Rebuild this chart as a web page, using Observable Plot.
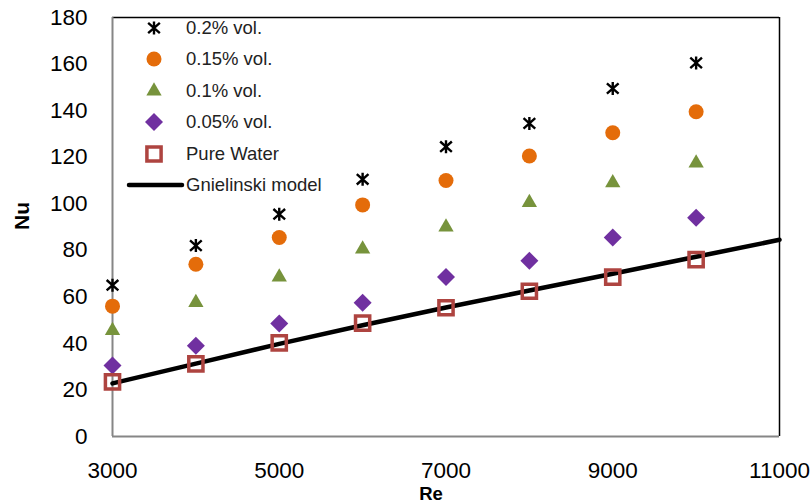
<!DOCTYPE html>
<html><head><meta charset="utf-8">
<script src="https://cdn.jsdelivr.net/npm/d3@7"></script>
<script src="https://cdn.jsdelivr.net/npm/@observablehq/plot@0.6"></script>
<style>
body{margin:0;background:#fff}
#wrap{position:relative;width:812px;height:504px}
#legend{position:absolute;left:0;top:0;pointer-events:none}
</style>
</head><body><div id="wrap"></div>
<script>
// ---- data ----
const reValues = [3000, 4000, 5000, 6000, 7000, 8000, 9000, 10000];
const nu02  = [65, 82, 95.5, 110.5, 124.5, 134.5, 149.5, 160.5];
const nu015 = [56, 74, 85.5, 99.5, 110, 120.5, 130.5, 139.5];
const nu01  = [45.5, 57.5, 68.5, 80.5, 90, 100.5, 109, 117.5];
const nu005 = [30.5, 39, 48.5, 57.5, 68.5, 75.5, 85.5, 94];
const nuWater = [23.5, 31.2, 40.2, 48.7, 55.3, 62.4, 68.5, 76];
const gnielRe = [3000, 4000, 5000, 6000, 7000, 8000, 9000, 10000, 11000];
const gnielNu = [22.8, 31.3, 39.8, 47.8, 55.4, 62.7, 69.9, 77.2, 84.5];
const xTicks = [3000, 5000, 7000, 9000, 11000];
const yTicks = [0, 20, 40, 60, 80, 100, 120, 140, 160, 180];
const seriesNames = ["0.2% vol.", "0.15% vol.", "0.1% vol.", "0.05% vol.", "Pure Water", "Gnielinski model"];

// ---- styles ----
const starSymbol = {
  draw(ctx, size) {
    const r = Math.sqrt(size / Math.PI);
    ctx.moveTo(0, -r); ctx.lineTo(0, r);
    ctx.moveTo(-r * 0.9, -r * 0.8); ctx.lineTo(r * 0.9, r * 0.8);
    ctx.moveTo(-r * 0.9, r * 0.8); ctx.lineTo(r * 0.9, -r * 0.8);
  }
};
const styles = [
  {symbol: starSymbol, r: 6.5, fill: "none", stroke: "#000", strokeWidth: 2.4},
  {symbol: d3.symbolCircle, r: 7.5, fill: "#E46C0A", stroke: "none", strokeWidth: 0},
  {symbol: d3.symbolTriangle2, r: 7.3, fill: "#77933C", stroke: "none", strokeWidth: 0},
  {symbol: d3.symbolDiamond2, r: 8.1, fill: "#7030A0", stroke: "none", strokeWidth: 0},
  {symbol: d3.symbolSquare, r: 8.0, fill: "none", stroke: "#AE4440", strokeWidth: 3.5}
];
const seriesValues = [nu02, nu015, nu01, nu005, nuWater];
const gniel = gnielRe.map((x, i) => ({x, y: gnielNu[i]}));

const dotMarks = seriesValues.map((vals, s) => {
  const rows = reValues.map((x, i) => ({x, y: vals[i]}));
  const st = styles[s];
  return Plot.dot(rows, {x: "x", y: "y", symbol: () => st.symbol, r: st.r,
    fill: st.fill, stroke: st.stroke, strokeWidth: st.strokeWidth});
});

const chart = Plot.plot({
  width: 812, height: 504,
  marginTop: 17, marginBottom: 68, marginLeft: 112, marginRight: 33,
  style: {fontFamily: "'Liberation Sans', Arial, sans-serif", fontSize: "22.5px", background: "white", color: "#000"},
  x: {domain: [3000, 11000], label: null},
  y: {domain: [0, 180], label: null},
  symbol: {type: "identity"},
  marks: [
    Plot.ruleY([180], {stroke: "#000", strokeWidth: 1.5}),
    Plot.ruleX([11000], {stroke: "#000", strokeWidth: 1.5}),
    Plot.ruleX([3000], {stroke: "#868686", strokeWidth: 2}),
    Plot.ruleY([0], {stroke: "#868686", strokeWidth: 2}),
    Plot.axisX({ticks: xTicks, tickSize: 0, tickPadding: 26, tickFormat: d => String(d), label: null}),
    Plot.axisY({ticks: yTicks, tickSize: 0, tickPadding: 25, tickFormat: d => String(d), label: null}),
    Plot.text(["Re"], {frameAnchor: "bottom", dx: -15, dy: 63, fontWeight: "bold", fontSize: 18.5, fill: "#000"}),
    Plot.text(["Nu"], {frameAnchor: "left", rotate: -90, dx: -90, dy: 3, fontWeight: "bold", fontSize: 21, fill: "#000"}),
    Plot.line(gniel, {x: "x", y: "y", stroke: "#000", strokeWidth: 4.5}),
    ...dotMarks
  ]
});
document.getElementById("wrap").appendChild(chart);

// ---- legend (overlay) ----
const leg = d3.select("#wrap").append("svg").attr("id", "legend").attr("width", 812).attr("height", 220);
const rowY = [28, 59, 91, 122, 154, 185];
seriesNames.forEach((name, i) => {
  const y = rowY[i];
  if (i < 5) {
    const st = styles[i];
    leg.append("path")
      .attr("d", d3.symbol(st.symbol, Math.PI * st.r * st.r)())
      .attr("transform", `translate(154,${y})`)
      .attr("fill", st.fill).attr("stroke", st.stroke).attr("stroke-width", st.strokeWidth);
  } else {
    leg.append("line").attr("x1", 129).attr("x2", 182).attr("y1", y).attr("y2", y)
      .attr("stroke", "#000").attr("stroke-width", 4.5).attr("stroke-linecap", "round");
  }
  leg.append("text").attr("x", 186).attr("y", y).attr("dy", "0.35em")
    .attr("font-family", "'Liberation Sans', Arial, sans-serif").attr("font-size", 18.5)
    .attr("fill", "#222").text(name);
});
</script>
</body></html>
